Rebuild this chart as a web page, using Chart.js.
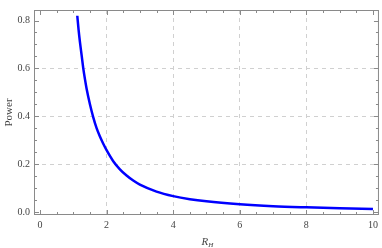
<!DOCTYPE html>
<html>
<head>
<meta charset="utf-8">
<script src="https://cdn.jsdelivr.net/npm/chart.js@4"></script>
<style>
  html, body { margin: 0; padding: 0; background: #fff; }
  #wrap { width: 382px; height: 248px; }
</style>
</head>
<body>
<div id="wrap"><canvas id="myChart" width="382" height="248"></canvas></div>
<script>
// values
const rH    = [1.12, 1.16, 1.2, 1.25, 1.3, 1.35, 1.4, 1.5, 1.6, 1.7, 1.8, 1.9, 2.0, 2.2, 2.4, 2.6, 2.8, 3.0, 3.5, 4.0, 4.5, 5.0, 6.0, 7.0, 8.0, 9.0, 10.0];
const power = [0.82, 0.76, 0.71, 0.655, 0.60, 0.555, 0.515, 0.45, 0.395, 0.35, 0.315, 0.285, 0.258, 0.212, 0.178, 0.152, 0.131, 0.114, 0.085, 0.066, 0.053, 0.044, 0.032, 0.024, 0.019, 0.015, 0.012];
const xTicks = [0, 2, 4, 6, 8, 10];
const yTicks = [0, 0.2, 0.4, 0.6, 0.8];
const xGrid = [2, 4, 6, 8];
const yGrid = [0.2, 0.4, 0.6];

const tickFont = { family: 'Liberation Serif', size: 10 };
const gray = '#8a8a8a';

let ctx = document.getElementById('myChart').getContext('2d');

// frame, inner tick marks and axis titles
const frameTicks = {
  id: 'frameTicks',
  afterDraw(chart) {
    const c = chart.ctx, a = chart.chartArea;
    const xs = chart.scales.x, ys = chart.scales.y;
    c.save();
    c.strokeStyle = gray;
    c.lineWidth = 1;
    c.strokeRect(a.left + 0.5, a.top + 0.5, a.right - a.left - 1, a.bottom - a.top - 1);
    c.beginPath();
    for (let v = 0; v <= 10.001; v += 0.5) {
      const p = Math.round(xs.getPixelForValue(v)) + 0.5;
      const len = Math.abs(v % 2) < 0.001 ? 5 : 3;
      c.moveTo(p, a.bottom); c.lineTo(p, a.bottom - len);
      c.moveTo(p, a.top); c.lineTo(p, a.top + len);
    }
    for (let v = 0; v <= 0.84; v += 0.05) {
      const p = Math.round(ys.getPixelForValue(v)) + 0.5;
      const len = Math.abs((v * 5) - Math.round(v * 5)) < 0.001 ? 5 : 3;
      c.moveTo(a.left, p); c.lineTo(a.left + len, p);
      c.moveTo(a.right, p); c.lineTo(a.right - len, p);
    }
    c.stroke();

    c.fillStyle = '#444';
    c.textBaseline = 'middle';
    // y title
    c.save();
    c.translate(9, (a.top + a.bottom) / 2);
    c.rotate(-Math.PI / 2);
    c.textAlign = 'center';
    c.font = '11px "Liberation Serif"';
    c.fillText('Power', 0, 0);
    c.restore();
    // x title R_H
    const cx = (a.left + a.right) / 2;
    c.textAlign = 'left';
    c.font = 'italic 11px "Liberation Serif"';
    const w = c.measureText('R').width;
    c.fillText('R', cx - 5, 242);
    c.font = 'italic 7px "Liberation Serif"';
    c.fillText('H', cx - 5 + w, 245);
    c.restore();
  }
};

let powerChart = new Chart(ctx, {
  type: 'line',
  data: {
    datasets: [{
      label: 'Power',
      data: rH.map((x, i) => ({ x: x, y: power[i] })),
      borderColor: '#0000ff',
      borderWidth: 2.5,
      pointRadius: 0,
      fill: false,
      cubicInterpolationMode: 'monotone'
    }]
  },
  options: {
    responsive: false,
    animation: false,
    layout: { padding: { left: 0, right: 2, top: 1, bottom: 0 } },
    plugins: { legend: { display: false }, tooltip: { enabled: false } },
    scales: {
      x: {
        type: 'linear',
        min: -0.18,
        max: 10.18,
        afterBuildTicks: s => { s.ticks = xTicks.map(v => ({ value: v })); },
        afterFit: s => { s.height = 33; },
        ticks: { font: tickFont, color: '#444', padding: 4, maxRotation: 0, callback: v => String(v) },
        grid: {
          drawTicks: false,
          color: c => xGrid.includes(c.tick && c.tick.value) ? '#d0d0d0' : 'rgba(0,0,0,0)',
          lineWidth: 1
        },
        border: { display: false, dash: [4, 4] }
      },
      y: {
        type: 'linear',
        min: -0.013,
        max: 0.844,
        afterBuildTicks: s => { s.ticks = yTicks.map(v => ({ value: v })); },
        afterFit: s => { s.width = 34; },
        ticks: { font: tickFont, color: '#444', padding: 4, callback: v => v.toFixed(1) },
        grid: {
          drawTicks: false,
          color: c => yGrid.includes(c.tick && c.tick.value) ? '#d0d0d0' : 'rgba(0,0,0,0)',
          lineWidth: 1
        },
        border: { display: false, dash: [4, 4] }
      }
    }
  },
  plugins: [frameTicks]
});
</script>
</body>
</html>
